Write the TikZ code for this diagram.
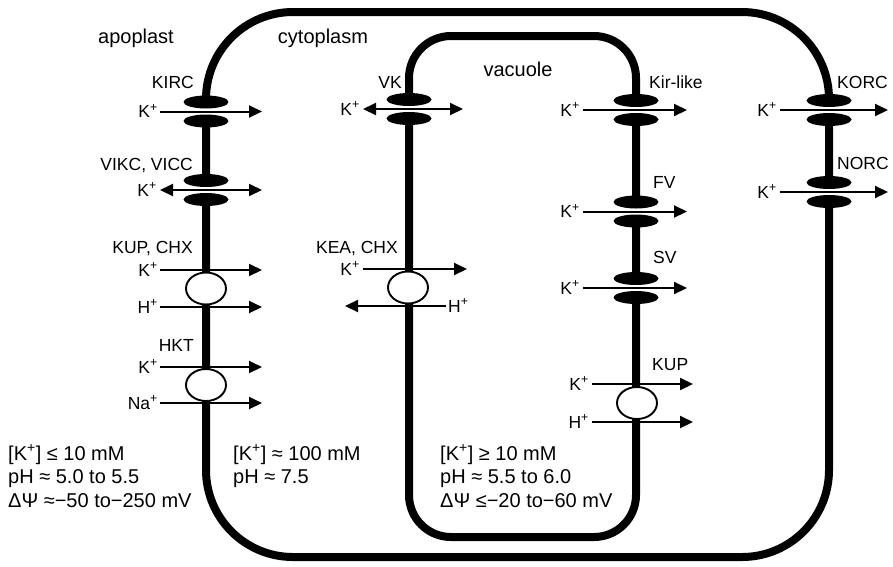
\documentclass[tikz,border=0pt]{standalone}
\usepackage{fontspec}
\setmainfont{Liberation Sans}
\usetikzlibrary{arrows.meta,shapes.geometric}
\newcommand{\MyChan}[3]{%
  \fill[white] ({#2-5.5},{#3-4}) rectangle ({#2+5.5},{#3+4});
  \node[chan] (#1a) at ({#2},{#3-9.5}) {};
  \node[chan] (#1b) at ({#2},{#3+9.5}) {};}
\begin{document}
\begin{tikzpicture}[x=1pt,y=-1pt,
  membrane/.style={line width=8pt},
  chan/.style={ellipse, fill=black, minimum width=45pt, minimum height=13pt, inner sep=0pt},
  trans/.style={ellipse, draw=black, fill=white, line width=1.9pt, minimum width=40pt, minimum height=32pt, inner sep=0pt},
  arr/.style={line width=2pt, -{Triangle[length=13pt,width=12pt]}},
  darr/.style={line width=2pt, {Triangle[length=13pt,width=12pt]}-{Triangle[length=13pt,width=12pt]}},
  lab/.style={font=\fontsize{17.5}{20}\selectfont, inner sep=0pt},
  ion/.style={font=\fontsize{17.5}{20}\selectfont, inner sep=0pt, anchor=base east},
  region/.style={font=\fontsize{20}{24}\selectfont, inner sep=0pt, anchor=base},
  cond/.style={font=\fontsize{20}{24}\selectfont, inner sep=0pt, anchor=base west}]
\useasboundingbox (0,0) rectangle (893,566);

% membranes
\draw[membrane, rounded corners=87pt] (206,12) rectangle (829,557);
\draw[membrane, rounded corners=42pt] (409,36) rectangle (636,537);

% region labels
\node[region] (apo) at (136,43) {apoplast};
\node[region] (cyto) at (323,43) {cytoplasm};
\node[region] (vac) at (518,76) {vacuole};

% ---------- plasma membrane, left ----------
\MyChan{kirc}{206}{111.5}
\node[lab, anchor=base east] (kircl) at (194,88) {KIRC};
\coordinate (a1l) at (160,111.5); \coordinate (a1r) at (262,111.5);
\draw[arr] (a1l) -- (a1r);
\node[ion] (a1k) at (158,117.5) {K\textsuperscript{+}};

\MyChan{vikc}{206}{190}
\node[lab, anchor=base east] (vikcl) at (193,170) {VIKC, VICC};
\coordinate (a2l) at (160,190); \coordinate (a2r) at (262,190);
\draw[darr] (a2l) -- (a2r);
\node[ion] (a2k) at (157,196) {K\textsuperscript{+}};

\node[trans] (kupchx) at (206,288.5) {};
\node[lab, anchor=base east] (kupchxl) at (193,253) {KUP, CHX};
\coordinate (a3l) at (160,270); \coordinate (a3r) at (262,270);
\draw[arr] (a3l) -- (a3r);
\node[ion] (a3k) at (158,276) {K\textsuperscript{+}};
\coordinate (a4l) at (160,307); \coordinate (a4r) at (262,307);
\draw[arr] (a4l) -- (a4r);
\node[ion] (a4k) at (158,313) {H\textsuperscript{+}};

\node[trans] (hkt) at (206,385) {};
\node[lab, anchor=base east] (hktl) at (194,351) {HKT};
\coordinate (a5l) at (160,367); \coordinate (a5r) at (262,367);
\draw[arr] (a5l) -- (a5r);
\node[ion] (a5k) at (158,373) {K\textsuperscript{+}};
\coordinate (a6l) at (160,403); \coordinate (a6r) at (262,403);
\draw[arr] (a6l) -- (a6r);
\node[ion] (a6k) at (158,409) {Na\textsuperscript{+}};

% ---------- tonoplast, left ----------
\MyChan{vk}{409}{109}
\node[lab, anchor=base east] (vkl) at (402,88) {VK};
\coordinate (b1l) at (363,109); \coordinate (b1r) at (463,109);
\draw[darr] (b1l) -- (b1r);
\node[ion] (b1k) at (360,115) {K\textsuperscript{+}};

\node[trans] (keachx) at (408,287.5) {};
\node[lab, anchor=base east] (keachxl) at (398,253) {KEA, CHX};
\coordinate (b2l) at (363,269); \coordinate (b2r) at (467,269);
\draw[arr] (b2l) -- (b2r);
\node[ion] (b2k) at (360,275) {K\textsuperscript{+}};
\coordinate (b3r) at (446,306); \coordinate (b3l) at (345,306);
\draw[arr] (b3r) -- (b3l);
\node[lab, anchor=base west] (b3k) at (448,312) {H\textsuperscript{+}};

% ---------- tonoplast, right ----------
\MyChan{kir}{636}{110}
\node[lab, anchor=base west] (kirl) at (649,88) {Kir-like};
\coordinate (c1l) at (583,110); \coordinate (c1r) at (687,110);
\draw[arr] (c1l) -- (c1r);
\node[ion] (c1k) at (580,116) {K\textsuperscript{+}};

\MyChan{fv}{636}{211.5}
\node[lab, anchor=base west] (fvl) at (653,188) {FV};
\coordinate (c2l) at (583,211.5); \coordinate (c2r) at (687,211.5);
\draw[arr] (c2l) -- (c2r);
\node[ion] (c2k) at (580,217.5) {K\textsuperscript{+}};

\MyChan{sv}{636}{288}
\node[lab, anchor=base west] (svl) at (653,263) {SV};
\coordinate (c3l) at (583,288); \coordinate (c3r) at (687,288);
\draw[arr] (c3l) -- (c3r);
\node[ion] (c3k) at (580,294) {K\textsuperscript{+}};

\node[trans] (kupv) at (637,403) {};
\node[lab, anchor=base west] (kupvl) at (652,370) {KUP};
\coordinate (c4l) at (592,384); \coordinate (c4r) at (693,384);
\draw[arr] (c4l) -- (c4r);
\node[ion] (c4k) at (589,390) {K\textsuperscript{+}};
\coordinate (c5l) at (592,422); \coordinate (c5r) at (693,422);
\draw[arr] (c5l) -- (c5r);
\node[ion] (c5k) at (589,428) {H\textsuperscript{+}};

% ---------- plasma membrane, right ----------
\MyChan{korc}{829}{110}
\node[lab, anchor=base west] (korcl) at (837,88) {KORC};
\coordinate (d1l) at (780,110); \coordinate (d1r) at (888,110);
\draw[arr] (d1l) -- (d1r);
\node[ion] (d1k) at (777,116) {K\textsuperscript{+}};

\MyChan{norc}{829}{192}
\node[lab, anchor=base west] (norcl) at (837,169) {NORC};
\coordinate (d2l) at (780,192); \coordinate (d2r) at (888,192);
\draw[arr] (d2l) -- (d2r);
\node[ion] (d2k) at (777,198) {K\textsuperscript{+}};

% ---------- conditions ----------
\node[cond] (ap1) at (8,460) {[K\textsuperscript{+}] ≤ 10 mM};
\node[cond] (ap2) at (8,483.5) {pH ≈ 5.0 to 5.5};
\node[cond] (ap3) at (8,507) {ΔΨ ≈−50 to−250 mV};
\node[cond] (cy1) at (233,460) {[K\textsuperscript{+}] ≈ 100 mM};
\node[cond] (cy2) at (233,483.5) {pH ≈ 7.5};
\node[cond] (va1) at (440,460) {[K\textsuperscript{+}] ≥ 10 mM};
\node[cond] (va2) at (440,483.5) {pH ≈ 5.5 to 6.0};
\node[cond] (va3) at (440,507) {ΔΨ ≤−20 to−60 mV};
\end{tikzpicture}
\end{document}
